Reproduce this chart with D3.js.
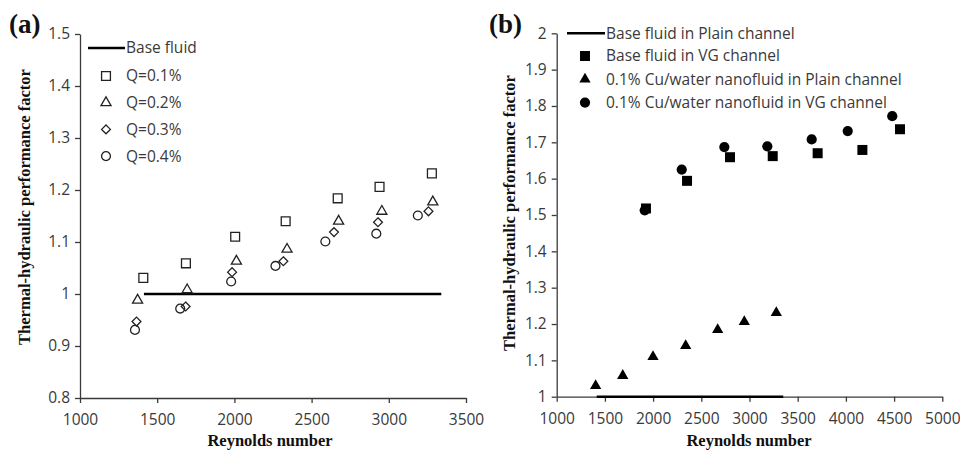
<!DOCTYPE html>
<html>
<head>
<meta charset="utf-8">
<script src="https://cdn.jsdelivr.net/npm/d3@7"></script>
<style>
	body { margin: 0; background: #fff; }
	svg { display: block; }
	.tick text { font-family: "Open Sans", sans-serif; font-size: 15.5px; fill: #3a3a3a; }
	.legend text { font-family: "Open Sans", sans-serif; font-size: 15.5px; fill: #3a3a3a; }
	.title { font-family: "Liberation Serif", "Times New Roman", serif; font-weight: bold; font-size: 16.5px; fill: #111; }
	.panel-label { font-family: "Liberation Serif", "Times New Roman", serif; font-weight: bold; font-size: 27px; fill: #111; }
</style>
</head>
<body>
<svg id="chart"></svg>
<script>
// panel (a): thermal-hydraulic performance factor vs Reynolds number, per concentration
let reA = {
	"Q=0.1%": [1410, 1686, 2005, 2332, 2669, 2940, 3279],
	"Q=0.2%": [1373, 1694, 2013, 2341, 2675, 2955, 3285],
	"Q=0.3%": [1366, 1684, 1985, 2317, 2645, 2930, 3257],
	"Q=0.4%": [1356, 1649, 1979, 2266, 2589, 2919, 3188]
};
let pfA = {
	"Q=0.1%": [1.031, 1.059, 1.110, 1.140, 1.184, 1.206, 1.232],
	"Q=0.2%": [0.988, 1.008, 1.063, 1.086, 1.140, 1.159, 1.177],
	"Q=0.3%": [0.947, 0.976, 1.042, 1.063, 1.119, 1.138, 1.159],
	"Q=0.4%": [0.931, 0.972, 1.024, 1.054, 1.101, 1.116, 1.151]
};
let baseLineRe = [1414, 3340];
let baseLinePf = [1, 1];

// panel (b)
let seriesB = ["Base fluid in VG channel", "0.1% Cu/water nanofluid in Plain channel", "0.1% Cu/water nanofluid in VG channel"];
let reB = {
	"Base fluid in VG channel": [1926, 2352, 2798, 3241, 3707, 4171, 4561],
	"0.1% Cu/water nanofluid in Plain channel": [1404, 1685, 1999, 2338, 2670, 2946, 3278],
	"0.1% Cu/water nanofluid in VG channel": [1913, 2297, 2739, 3185, 3645, 4019, 4481]
};
let pfB = {
	"Base fluid in VG channel": [1.518, 1.594, 1.659, 1.662, 1.670, 1.679, 1.736],
	"0.1% Cu/water nanofluid in Plain channel": [1.030, 1.058, 1.110, 1.140, 1.184, 1.206, 1.231],
	"0.1% Cu/water nanofluid in VG channel": [1.513, 1.625, 1.687, 1.689, 1.708, 1.731, 1.772]
};
let basePlainRe = [1415, 3350];
let basePlainPf = [1, 1];

let xTicksA = [1000, 1500, 2000, 2500, 3000, 3500];
let yTicksA = [0.8, 0.9, 1.0, 1.1, 1.2, 1.3, 1.4, 1.5];
let xTicksB = [1000, 1500, 2000, 2500, 3000, 3500, 4000, 4500, 5000];
let yTicksB = [1.0, 1.1, 1.2, 1.3, 1.4, 1.5, 1.6, 1.7, 1.8, 1.9, 2.0];

const svg = d3.select("#chart")
	.attr("width", 960)
	.attr("height", 455);

const fmt = d => String(+d.toFixed(1));
const fmtX = d3.format("d");
const axisColor = "#3a3a3a";

// ---------- panel (a) ----------
const xA = d3.scaleLinear().domain([1000, 3500]).range([80, 466]);
const yA = d3.scaleLinear().domain([0.8, 1.5]).range([398, 34]);

const symA = {
	"Q=0.1%": d3.symbol(d3.symbolSquare, 78),
	"Q=0.2%": d3.symbol(d3.symbolTriangle, 44),
	"Q=0.3%": d3.symbol(d3.symbolDiamond2, 50),
	"Q=0.4%": d3.symbol(d3.symbolCircle, 62)
};

function styleAxis(g) {
	g.select(".domain").attr("stroke", axisColor).attr("stroke-width", 1.3);
	g.selectAll(".tick line").attr("stroke", axisColor).attr("stroke-width", 1.3);
	g.selectAll("text").attr("font-size", null).attr("font-family", null);
}

svg.append("g")
	.attr("transform", "translate(0,398)")
	.call(d3.axisBottom(xA).tickValues(xTicksA).tickFormat(fmtX).tickSize(5).tickSizeOuter(0).tickPadding(11))
	.call(styleAxis);

svg.append("g")
	.attr("transform", "translate(80,0)")
	.call(d3.axisLeft(yA).tickValues(yTicksA).tickFormat(fmt).tickSize(5).tickSizeOuter(0).tickPadding(5))
	.call(styleAxis);

svg.append("line")
	.attr("x1", xA(baseLineRe[0])).attr("x2", xA(baseLineRe[1]))
	.attr("y1", yA(baseLinePf[0])).attr("y2", yA(baseLinePf[1]))
	.attr("stroke", "#000").attr("stroke-width", 2.6);

for (let s of Object.keys(reA)) {
	svg.selectAll(null)
		.data(reA[s].map((r, i) => [r, pfA[s][i]]))
		.join("path")
		.attr("d", symA[s]())
		.attr("transform", d => `translate(${xA(d[0])},${yA(d[1])})`)
		.attr("fill", "none")
		.attr("stroke", "#222")
		.attr("stroke-width", 1.3);
}

// legend (a)
const legA = svg.append("g").attr("class", "legend");
legA.append("line").attr("x1", 88).attr("x2", 125).attr("y1", 48).attr("y2", 48)
	.attr("stroke", "#000").attr("stroke-width", 2.4);
legA.append("text").attr("x", 126).attr("y", 48).attr("dy", "0.35em").text("Base fluid");
Object.keys(reA).forEach((s, i) => {
	let y = 76 + i * 26.7;
	legA.append("path").attr("d", symA[s]())
		.attr("transform", `translate(106,${y})`)
		.attr("fill", "none").attr("stroke", "#222").attr("stroke-width", 1.3);
	legA.append("text").attr("x", 126).attr("y", y).attr("dy", "0.35em").text(s);
});

svg.append("text").attr("class", "title")
	.attr("text-anchor", "middle")
	.attr("transform", "translate(30,207) rotate(-90)")
	.text("Thermal-hydraulic performance factor");
svg.append("text").attr("class", "title")
	.attr("text-anchor", "middle")
	.attr("x", 270).attr("y", 446)
	.text("Reynolds number");
svg.append("text").attr("class", "panel-label")
	.attr("x", 9).attr("y", 33).text("(a)");

// ---------- panel (b) ----------
const xB = d3.scaleLinear().domain([1000, 5000]).range([556.7, 942.3]);
const yB = d3.scaleLinear().domain([1, 2]).range([396.7, 33.3]);

const symB = {
	"Base fluid in VG channel": d3.symbol(d3.symbolSquare, 100),
	"0.1% Cu/water nanofluid in Plain channel": d3.symbol(d3.symbolTriangle, 55),
	"0.1% Cu/water nanofluid in VG channel": d3.symbol(d3.symbolCircle, 82)
};

svg.append("g")
	.attr("transform", "translate(0,396.7)")
	.call(d3.axisBottom(xB).tickValues(xTicksB).tickFormat(fmtX).tickSize(5).tickSizeOuter(0).tickPadding(11))
	.call(styleAxis);

svg.append("g")
	.attr("transform", "translate(556.7,0)")
	.call(d3.axisLeft(yB).tickValues(yTicksB).tickFormat(fmt).tickSize(5).tickSizeOuter(0).tickPadding(5))
	.call(styleAxis);

svg.append("line")
	.attr("x1", xB(basePlainRe[0])).attr("x2", xB(basePlainRe[1]))
	.attr("y1", yB(basePlainPf[0])).attr("y2", yB(basePlainPf[1]))
	.attr("stroke", "#000").attr("stroke-width", 2.6);

for (let s of seriesB) {
	svg.selectAll(null)
		.data(reB[s].map((r, i) => [r, pfB[s][i]]))
		.join("path")
		.attr("d", symB[s]())
		.attr("transform", d => `translate(${xB(d[0])},${yB(d[1])})`)
		.attr("fill", "#000");
}

// legend (b)
const legB = svg.append("g").attr("class", "legend");
legB.append("line").attr("x1", 567).attr("x2", 605).attr("y1", 33.3).attr("y2", 33.3)
	.attr("stroke", "#000").attr("stroke-width", 2.4);
legB.append("text").attr("x", 606).attr("y", 33.3).attr("dy", "0.35em").text("Base fluid in Plain channel");
seriesB.forEach((s, i) => {
	let y = 56 + i * 23.3;
	legB.append("path").attr("d", symB[s]())
		.attr("transform", `translate(585,${y})`)
		.attr("fill", "#000");
	legB.append("text").attr("x", 606).attr("y", y).attr("dy", "0.35em").text(s);
});

svg.append("text").attr("class", "title")
	.attr("text-anchor", "middle")
	.attr("transform", "translate(515,213) rotate(-90)")
	.text("Thermal-hydraulic performance factor");
svg.append("text").attr("class", "title")
	.attr("text-anchor", "middle")
	.attr("x", 749).attr("y", 446)
	.text("Reynolds number");
svg.append("text").attr("class", "panel-label")
	.attr("x", 489).attr("y", 33).text("(b)");
</script>
</body>
</html>
